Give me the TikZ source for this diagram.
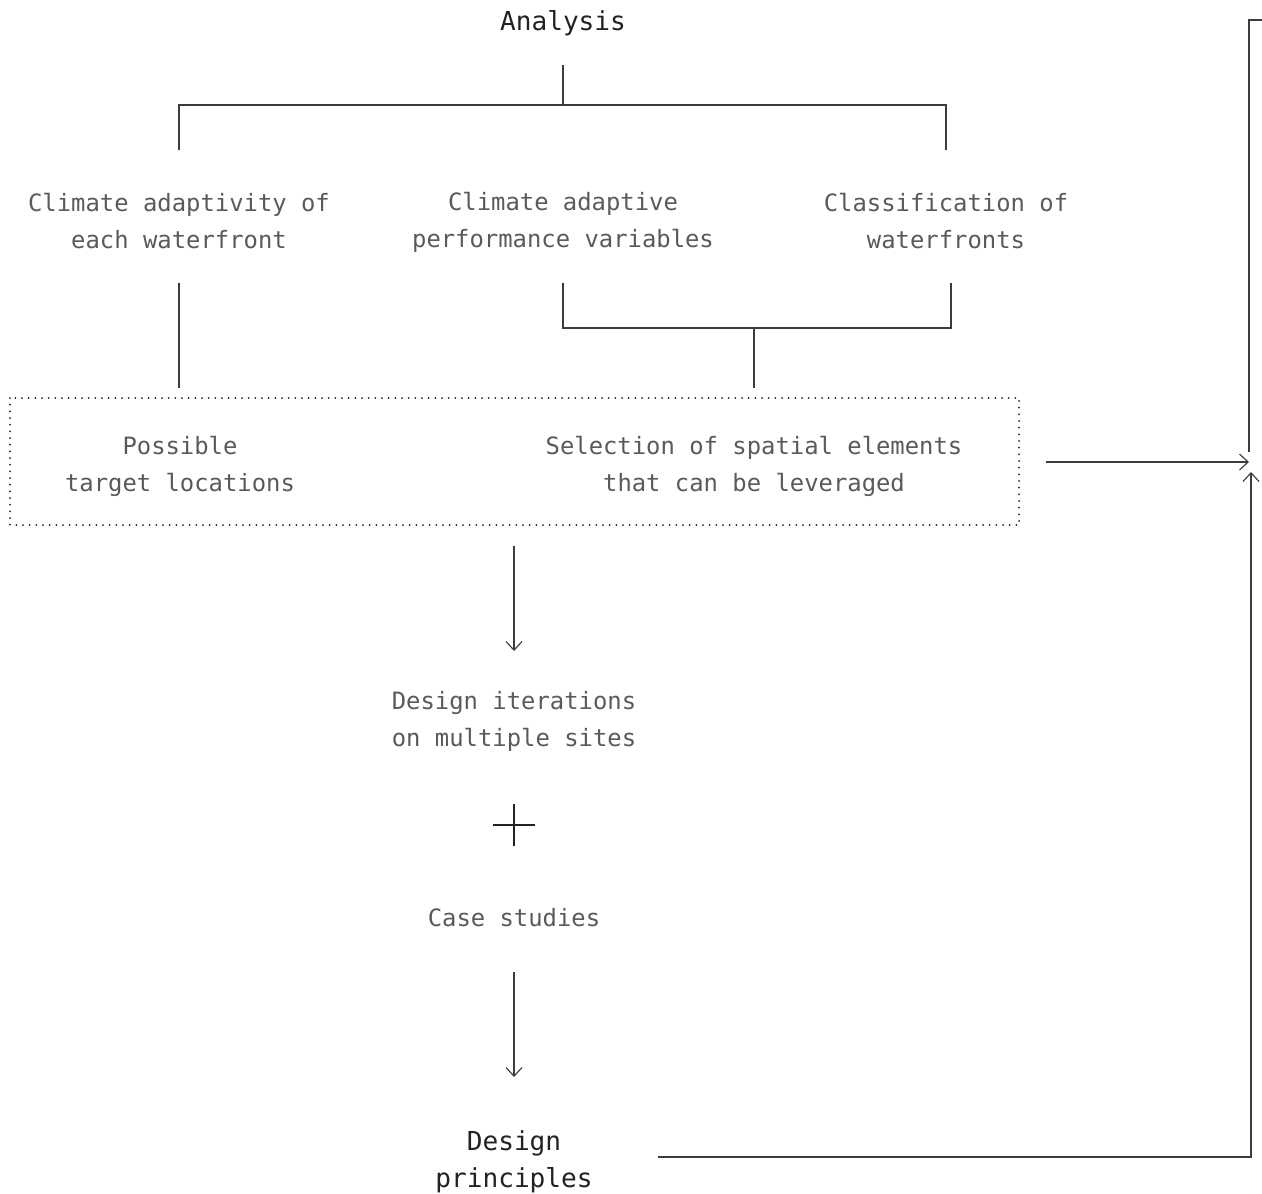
\documentclass[tikz,border=0pt]{standalone}
\usepackage{fontspec}
\setmonofont{DejaVu Sans Mono}
\usetikzlibrary{arrows.meta}
\definecolor{ink}{HTML}{222222}
\definecolor{soft}{HTML}{5A5A5A}
\definecolor{rule}{HTML}{3C3C3C}
\tikzset{
  heading/.style={font=\ttfamily\fontsize{19.6}{27.7}\selectfont, text=ink, align=center, inner sep=0pt},
  label/.style={font=\ttfamily\fontsize{17.9}{27.7}\selectfont, text=soft, align=center, inner sep=0pt},
  link/.style={draw=rule, line width=0.85pt},
  flow/.style={link, -{Straight Barb[length=6.5pt, width=12pt, line width=0.85pt]}},
  dotbox/.style={draw=ink, line width=1.5pt, line cap=round, dash pattern=on 0pt off 5pt}
}
\begin{document}
\begin{tikzpicture}[x=0.75pt, y=-0.75pt]
\useasboundingbox (0,0) rectangle (1262,1193);

% nodes
\node[heading] (analysis) at (563,23.5) {Analysis};
\node[label] (adapt) at (179,221) {Climate adaptivity of\\each waterfront};
\node[label] (perf) at (563,222.5) {Climate adaptive\\performance variables};
\node[label] (class) at (946,221) {Classification of\\waterfronts};
\node[label] (target) at (180,466.5) {Possible\\target locations};
\node[label] (select) at (754,466.5) {Selection of spatial elements\\that can be leveraged};
\node[label] (iter) at (514,721.5) {Design iterations\\on multiple sites};
\node[label] (cases) at (514,918) {Case studies};
\node[heading] (princ) at (514,1162) {Design\\principles};

% dotted frame around the two outcomes
\draw[dotbox] (10,398) rectangle (1019,525);

% analysis tree
\coordinate (aTop) at (563,65);
\coordinate (aMid) at (563,105);
\coordinate (aL) at (179,105);
\coordinate (aR) at (946,105);
\draw[link] (aTop) -- (aMid);
\draw[link] (179,150) -- (aL) -- (aR) -- (946,150);

% left branch to target locations
\draw[link] (179,283) -- (179,388);

% joined branch to spatial elements
\draw[link] (563,283) -- (563,328) -- (951,328) -- (951,283);
\draw[link] (754,328) -- (754,388);

% outcome to side loop
\coordinate (joinR) at (1249,462);
\draw[flow] (1046,462) -- (joinR);
\draw[link] (1249,452) -- (1249,20) -- (1262,20);

% design sequence
\draw[flow] (514,546) -- (514,651);
\draw[link, line width=1.2pt, draw=ink] (493,825) -- (535,825);
\draw[link, line width=1.2pt, draw=ink] (514,804) -- (514,846);
\draw[flow] (514,972) -- (514,1077);

% feedback from principles
\coordinate (joinB) at (1251,472);
\draw[flow] (658,1157) -- (1251,1157) -- (joinB);
\end{tikzpicture}
\end{document}
